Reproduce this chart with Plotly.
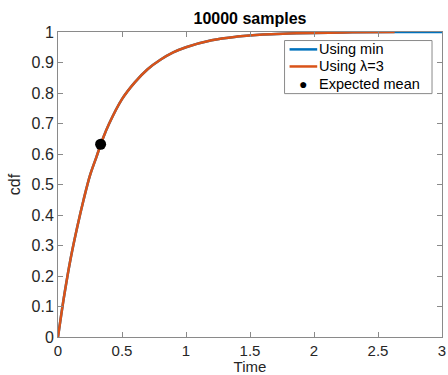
import plotly.graph_objects as go

t_min = [0, 0.05, 0.1, 0.15, 0.2, 0.25, 0.3, 0.35, 0.4, 0.5, 0.6, 0.7, 0.8, 0.9, 1.0,
         1.2, 1.4, 1.6, 1.8, 2.0, 2.3, 2.63, 3.0]
cdf_min = [0, 0.14, 0.26, 0.36, 0.45, 0.53, 0.59, 0.65, 0.70, 0.78, 0.835, 0.878, 0.909,
           0.933, 0.950, 0.973, 0.985, 0.992, 0.995, 0.997, 0.999, 0.9996, 1.0]
t_lam = [0, 0.05, 0.1, 0.15, 0.2, 0.25, 0.3, 0.35, 0.4, 0.5, 0.6, 0.7, 0.8, 0.9, 1.0,
         1.2, 1.4, 1.6, 1.8, 2.0, 2.3, 2.63]
cdf_lam = [0, 0.14, 0.26, 0.36, 0.45, 0.53, 0.59, 0.65, 0.70, 0.78, 0.835, 0.878, 0.909,
           0.933, 0.950, 0.973, 0.985, 0.992, 0.995, 0.997, 0.999, 0.9996]
mean_t = [0.333]
mean_cdf = [0.632]

xticks = [0, 0.5, 1, 1.5, 2, 2.5, 3]
yticks = [0, 0.1, 0.2, 0.3, 0.4, 0.5, 0.6, 0.7, 0.8, 0.9, 1]
legend_names = ["Using min", "Using λ=3", "Expected mean"]

BLUE, ORANGE = "#0072BD", "#D95319"

fig = go.Figure()
fig.add_trace(go.Scatter(x=t_min, y=cdf_min, mode="lines", name=legend_names[0],
                         line=dict(color=BLUE, width=2.5, shape="spline")))
fig.add_trace(go.Scatter(x=t_lam, y=cdf_lam, mode="lines", name=legend_names[1],
                         line=dict(color=ORANGE, width=2.5, shape="spline")))
fig.add_trace(go.Scatter(x=mean_t, y=mean_cdf, mode="markers", name=legend_names[2],
                         marker=dict(color="black", size=11)))

axis_common = dict(showline=True, linecolor="#8a8a8a", linewidth=1, mirror="allticks",
                   ticks="inside", ticklen=5, tickcolor="#8a8a8a", showgrid=False,
                   zeroline=False, ticklabeloverflow="allow")

# Compact MATLAB-style legend box (paper coordinates)
lx0, lx1, ly0, ly1 = 0.590, 0.974, 0.798, 0.972
rows = [0.943, 0.887, 0.831]
sx0, sx1, tx = 0.603, 0.675, 0.678
shapes = [dict(type="rect", xref="paper", yref="paper", x0=lx0, x1=lx1, y0=ly0, y1=ly1,
               line=dict(color="#8a8a8a", width=1), fillcolor="white", layer="above")]
for col, ry in zip([BLUE, ORANGE], rows[:2]):
    shapes.append(dict(type="line", xref="paper", yref="paper", x0=sx0, x1=sx1, y0=ry, y1=ry,
                       line=dict(color=col, width=2.5), layer="above"))
annotations = [dict(text=name, xref="paper", yref="paper", x=tx, y=ry, xanchor="left",
                    yanchor="middle", showarrow=False, borderpad=0,
                    font=dict(size=14.5, color="black"))
               for name, ry in zip(legend_names, rows)]
annotations.append(dict(text="●", xref="paper", yref="paper", x=(sx0 + sx1) / 2, y=rows[2],
                        xanchor="center", yanchor="middle", showarrow=False, borderpad=0,
                        font=dict(size=14, color="black")))

fig.update_layout(
    width=448, height=375,
    margin=dict(l=58, r=2, t=32, b=38),
    paper_bgcolor="white", plot_bgcolor="white",
    font=dict(family="Liberation Sans, Arial, sans-serif", color="#262626"),
    title=dict(text="<b>10000 samples</b>", x=0.5, xanchor="center", xref="paper",
               y=0.952, yanchor="middle", yref="container",
               font=dict(size=16, color="black")),
    xaxis=dict(range=[0, 3], tickvals=xticks, ticktext=[str(v) for v in xticks],
               tickfont=dict(size=15, color="#262626"),
               title=dict(text="Time", font=dict(size=15, color="#262626"), standoff=0),
               **axis_common),
    yaxis=dict(range=[0, 1], tickvals=yticks, ticktext=[("%g" % v) for v in yticks],
               tickfont=dict(size=16, color="#262626"),
               title=dict(text="cdf", font=dict(size=16), standoff=6), **axis_common),
    shapes=shapes,
    annotations=annotations,
    showlegend=False,
)

fig.write_html("out.html")
